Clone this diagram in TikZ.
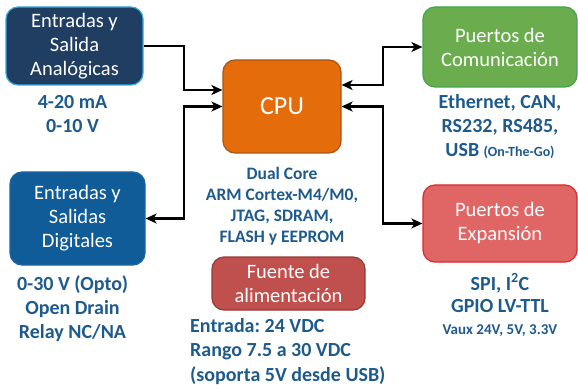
\documentclass[tikz,border=0pt]{standalone}
\usepackage{fontspec}
\setmainfont{Carlito}
\usetikzlibrary{arrows.meta,positioning,calc}
\definecolor{anafill}{RGB}{31,62,97}
\definecolor{anadraw}{RGB}{52,170,222}
\definecolor{digfill}{RGB}{16,92,152}
\definecolor{digdraw}{RGB}{30,100,160}
\definecolor{cpufill}{RGB}{228,108,10}
\definecolor{cpudraw}{RGB}{170,85,20}
\definecolor{comfill}{RGB}{106,172,78}
\definecolor{comdraw}{RGB}{62,168,72}
\definecolor{expfill}{RGB}{224,102,102}
\definecolor{expdraw}{RGB}{222,40,40}
\definecolor{pwrfill}{RGB}{192,80,77}
\definecolor{pwrdraw}{RGB}{150,58,56}
\definecolor{txtblue}{RGB}{30,90,140}
\tikzset{
  basebox/.style={rectangle,rounded corners=12pt,line width=1.2pt,align=center,text=white,font=\fontsize{20.5}{24}\selectfont},
  anabox/.style={basebox,fill=anafill,draw=anadraw,minimum width=137pt,minimum height=78pt},
  digbox/.style={basebox,fill=digfill,draw=digdraw,minimum width=135pt,minimum height=93pt},
  cpubox/.style={basebox,fill=cpufill,draw=cpudraw,minimum width=118pt,minimum height=93pt,font=\fontsize{26}{30}\selectfont},
  combox/.style={basebox,fill=comfill,draw=comdraw,minimum width=154pt,minimum height=80pt},
  expbox/.style={basebox,fill=expfill,draw=expdraw,minimum width=154pt,minimum height=77pt},
  pwrbox/.style={basebox,fill=pwrfill,draw=pwrdraw,minimum width=153pt,minimum height=53pt},
  infotext/.style={text=txtblue,align=center,inner sep=0pt,font=\bfseries\fontsize{20}{24}\selectfont},
  arr/.style={-{Stealth[length=11pt,width=10pt,inset=3pt]},line width=2.2pt,black},
  dblarr/.style={{Stealth[length=11pt,width=10pt,inset=3pt]}-{Stealth[length=11pt,width=10pt,inset=3pt]},line width=2.2pt,black}
}
\frenchspacing

\begin{document}
\begin{tikzpicture}[x=1pt,y=-1pt]
  \useasboundingbox (0,0) rectangle (578,390);
  \node[anabox] (ana) at (74.5,46) {Entradas y\\Salida\\Analógicas};
  \node[digbox] (dig) at (77.5,218.5) {Entradas y\\Salidas\\Digitales};
  \node[cpubox] (cpu) at (282,106.5) {CPU};
  \node[pwrbox] (pwr) at (288.5,283.5) {Fuente de\\alimentación};
  \node[combox] (com) at (500,47) {Puertos de\\Comunicación};
  \node[expbox] (exp) at (500,223.5) {Puertos de\\Expansión};

  \node[infotext,below=10pt of ana,xshift=-2pt] (anatxt) {4-20 mA\\0-10 V};
  \node[infotext,below=10pt of dig,xshift=-5pt] (digtxt) {0-30 V (Opto)\\Open Drain\\Relay NC/NA};
  \node[infotext,below=13pt of cpu,font=\bfseries\fontsize{17.5}{21}\selectfont] (cputxt)
    {Dual Core\\ARM Cortex-M4/M0,\\JTAG, SDRAM,\\FLASH y EEPROM};
  \node[infotext,align=left,anchor=north west,font=\bfseries\fontsize{20}{24.5}\selectfont] (pwrtxt) at (190,318)
    {Entrada: 24 VDC\\Rango 7.5 a 30 VDC\\(soporta 5V desde USB)};
  \node[infotext,below=7pt of com] (comtxt)
    {Ethernet, CAN,\\RS232, RS485,\\USB {\fontsize{14}{24}\selectfont (On-The-Go)}};
  \node[infotext,below=11pt of exp,font=\bfseries\fontsize{20}{22}\selectfont] (exptxt)
    {SPI, I\textsuperscript{2}C\\GPIO LV-TTL\\{\fontsize{15}{21}\selectfont Vaux 24V, 5V, 3.3V}};

  \draw[arr] (ana.east) -- ++(40,0) |- ([yshift=16.5pt]cpu.west);
  \draw[dblarr] (dig.east) -- ++(38,0) |- (cpu.west);
  \draw[dblarr] ([yshift=21.5pt]cpu.east) -- ++(41,0) |- (com.west);
  \draw[dblarr] (cpu.east) -- ++(41,0) |- (exp.west);
\end{tikzpicture}
\end{document}
